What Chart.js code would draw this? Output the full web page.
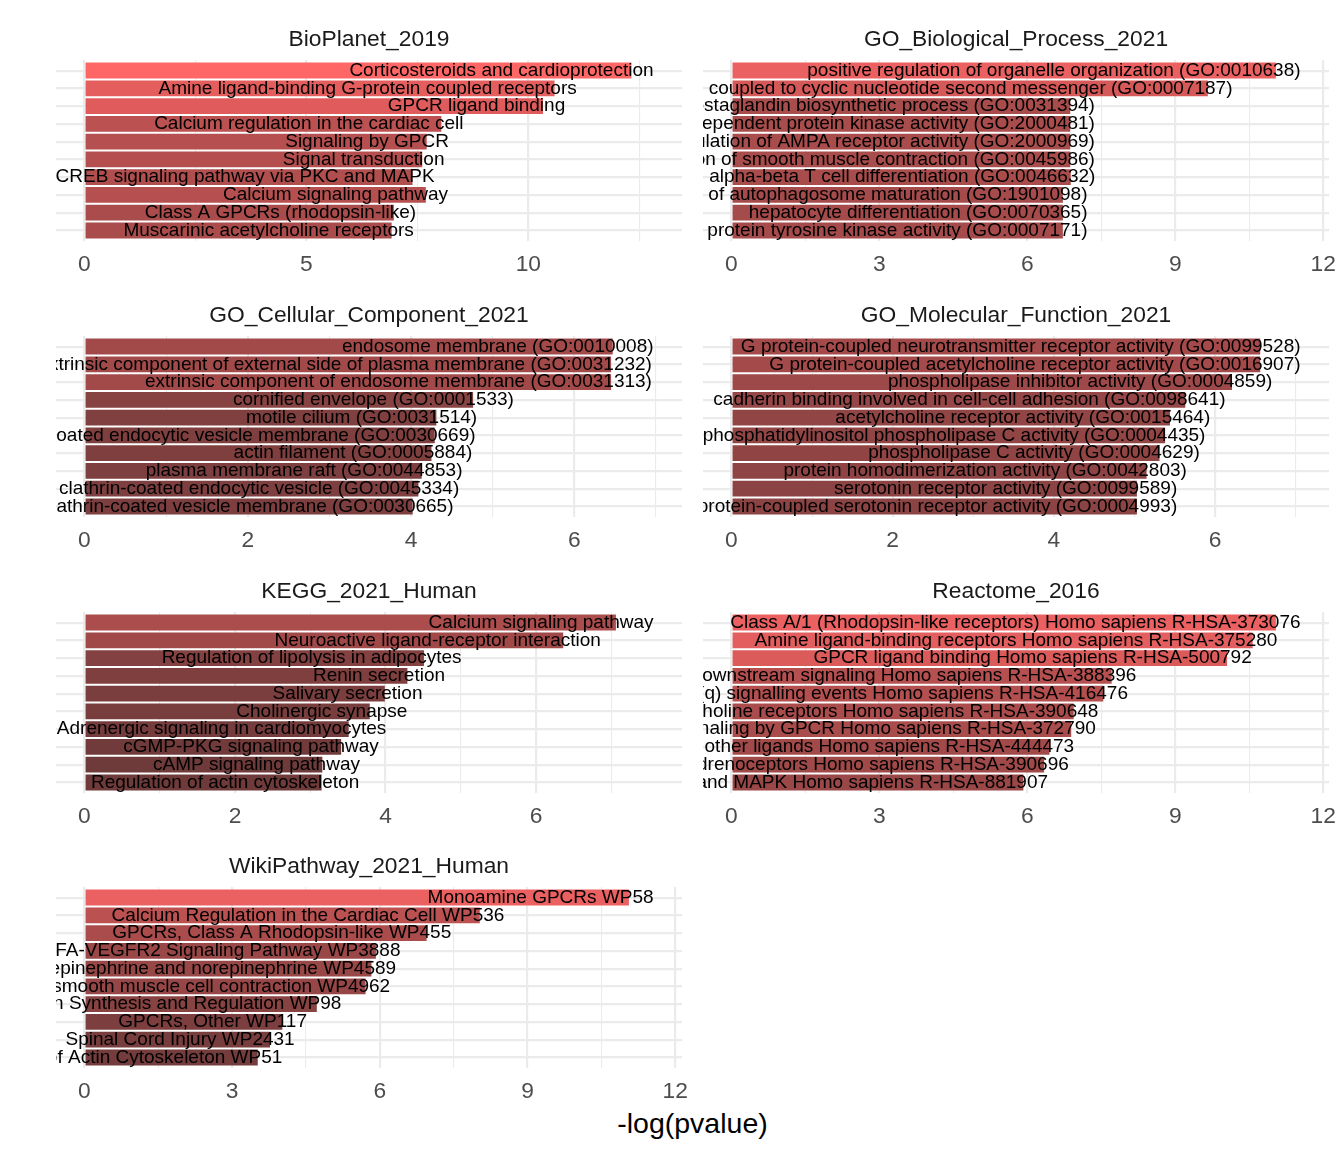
<!DOCTYPE html>
<html>
<head>
<meta charset="utf-8">
<script src="https://cdn.jsdelivr.net/npm/chart.js@4.4.1/dist/chart.umd.min.js"></script>
<style>
  body { margin: 0; background: #fff; }
  #page { position: relative; width: 1344px; height: 1152px; overflow: hidden; background: #fff; }
  #page canvas { position: absolute; }
  #xTitle {
    position: absolute; left: 0; width: 1385px; top: 1106px;
    text-align: center; font: 28.5px/34px "Liberation Sans", Arial, sans-serif; color: #000;
  }
</style>
</head>
<body>
<div id="page">
  <div id="xTitle">-log(pvalue)</div>
</div>
<script>
// Facet titles
const panelTitles = ['BioPlanet_2019', 'GO_Biological_Process_2021', 'GO_Cellular_Component_2021',
  'GO_Molecular_Function_2021', 'KEGG_2021_Human', 'Reactome_2016', 'WikiPathway_2021_Human'];

const bioplanetTerms = ['Corticosteroids and cardioprotection', 'Amine ligand-binding G-protein coupled receptors',
  'GPCR ligand binding', 'Calcium regulation in the cardiac cell', 'Signaling by GPCR', 'Signal transduction',
  'CREB signaling pathway via PKC and MAPK', 'Calcium signaling pathway', 'Class A GPCRs (rhodopsin-like)',
  'Muscarinic acetylcholine receptors'];
const bioplanetValues = [12.32, 10.59, 10.33, 8.04, 7.71, 7.61, 7.39, 7.69, 6.97, 6.92];
const bioplanetTicks = [0, 5, 10];

const goBpTerms = ['positive regulation of organelle organization (GO:0010638)',
  'G protein-coupled receptor signaling pathway, coupled to cyclic nucleotide second messenger (GO:0007187)',
  'positive regulation of prostaglandin biosynthetic process (GO:0031394)',
  'positive regulation of cAMP-dependent protein kinase activity (GO:2000481)',
  'positive regulation of AMPA receptor activity (GO:2000969)',
  'negative regulation of smooth muscle contraction (GO:0045986)',
  'alpha-beta T cell differentiation (GO:0046632)',
  'positive regulation of autophagosome maturation (GO:1901098)',
  'hepatocyte differentiation (GO:0070365)',
  'activation of transmembrane receptor protein tyrosine kinase activity (GO:0007171)'];
const goBpValues = [11.04, 9.66, 6.87, 6.87, 6.87, 6.87, 6.88, 6.72, 6.72, 6.72];
const goBpTicks = [0, 3, 6, 9, 12];

const goCcTerms = ['endosome membrane (GO:0010008)',
  'extrinsic component of external side of plasma membrane (GO:0031232)',
  'extrinsic component of endosome membrane (GO:0031313)',
  'cornified envelope (GO:0001533)', 'motile cilium (GO:0031514)',
  'clathrin-coated endocytic vesicle membrane (GO:0030669)', 'actin filament (GO:0005884)',
  'plasma membrane raft (GO:0044853)', 'clathrin-coated endocytic vesicle (GO:0045334)',
  'clathrin-coated vesicle membrane (GO:0030665)'];
const goCcValues = [6.47, 6.45, 6.45, 4.76, 4.31, 4.29, 4.25, 4.13, 4.09, 4.02];
const goCcTicks = [0, 2, 4, 6];

const goMfTerms = ['G protein-coupled neurotransmitter receptor activity (GO:0099528)',
  'G protein-coupled acetylcholine receptor activity (GO:0016907)',
  'phospholipase inhibitor activity (GO:0004859)',
  'cadherin binding involved in cell-cell adhesion (GO:0098641)',
  'acetylcholine receptor activity (GO:0015464)',
  'phosphatidylinositol phospholipase C activity (GO:0004435)',
  'phospholipase C activity (GO:0004629)', 'protein homodimerization activity (GO:0042803)',
  'serotonin receptor activity (GO:0099589)',
  'G protein-coupled serotonin receptor activity (GO:0004993)'];
const goMfValues = [6.56, 6.56, 6.21, 5.63, 5.44, 5.38, 5.31, 5.15, 5.03, 5.03];
const goMfTicks = [0, 2, 4, 6];

const keggTerms = ['Calcium signaling pathway', 'Neuroactive ligand-receptor interaction',
  'Regulation of lipolysis in adipocytes', 'Renin secretion', 'Salivary secretion', 'Cholinergic synapse',
  'Adrenergic signaling in cardiomyocytes', 'cGMP-PKG signaling pathway', 'cAMP signaling pathway',
  'Regulation of actin cytoskeleton'];
const keggValues = [7.06, 6.36, 4.51, 4.29, 3.99, 3.79, 3.51, 3.41, 3.16, 3.15];
const keggTicks = [0, 2, 4, 6];

const reactomeTerms = ['Class A/1 (Rhodopsin-like receptors) Homo sapiens R-HSA-373076',
  'Amine ligand-binding receptors Homo sapiens R-HSA-375280',
  'GPCR ligand binding Homo sapiens R-HSA-500792',
  'GPCR downstream signaling Homo sapiens R-HSA-388396',
  'G alpha (q) signalling events Homo sapiens R-HSA-416476',
  'Muscarinic acetylcholine receptors Homo sapiens R-HSA-390648',
  'Signaling by GPCR Homo sapiens R-HSA-372790',
  'Formyl peptide receptors bind formyl peptides and many other ligands Homo sapiens R-HSA-444473',
  'Adrenoceptors Homo sapiens R-HSA-390696',
  'Gastrin-CREB signalling pathway via PKC and MAPK Homo sapiens R-HSA-881907'];
const reactomeValues = [11.04, 10.57, 10.05, 7.71, 7.54, 6.94, 6.89, 6.45, 6.34, 5.92];
const reactomeTicks = [0, 3, 6, 9, 12];

const wikiTerms = ['Monoamine GPCRs WP58', 'Calcium Regulation in the Cardiac Cell WP536',
  'GPCRs, Class A Rhodopsin-like WP455', 'VEGFA-VEGFR2 Signaling Pathway WP3888',
  'Major receptors targeted by epinephrine and norepinephrine WP4589',
  'Regulation of smooth muscle cell contraction WP4962',
  'Prostaglandin Synthesis and Regulation WP98', 'GPCRs, Other WP117', 'Spinal Cord Injury WP2431',
  'Regulation of Actin Cytoskeleton WP51'];
const wikiValues = [11.06, 8.03, 6.95, 5.92, 5.83, 5.71, 4.72, 4.02, 3.77, 3.52];
const wikiTicks = [0, 3, 6, 9, 12];

const panels = [
  { terms: bioplanetTerms, values: bioplanetValues, ticks: bioplanetTicks },
  { terms: goBpTerms, values: goBpValues, ticks: goBpTicks },
  { terms: goCcTerms, values: goCcValues, ticks: goCcTicks },
  { terms: goMfTerms, values: goMfValues, ticks: goMfTicks },
  { terms: keggTerms, values: keggValues, ticks: keggTicks },
  { terms: reactomeTerms, values: reactomeValues, ticks: reactomeTicks },
  { terms: wikiTerms, values: wikiValues, ticks: wikiTicks }
];

const FONT = '"Liberation Sans", Arial, sans-serif';
const LABEL_OFFSET = 0.5;   // text sits a little right of the bar end

// fill gradient shared by every facet
const allValues = panels.flatMap(p => p.values);
const vMin = Math.min(...allValues), vMax = Math.max(...allValues);
const lowCol = [110, 58, 58], highCol = [255, 102, 102];
function fillFor(v) {
  const t = (v - vMin) / (vMax - vMin);
  const c = lowCol.map((l, i) => Math.round(l + (highCol[i] - l) * t));
  return `rgb(${c[0]},${c[1]},${c[2]})`;
}

// term text drawn inside the panel, clipped at its edges
const barLabels = {
  id: 'barLabels',
  afterDatasetsDraw(chart, args, opts) {
    const { ctx, chartArea: a, scales: { x, y } } = chart;
    ctx.save();
    ctx.beginPath();
    ctx.rect(a.left, a.top, a.right - a.left, a.bottom - a.top);
    ctx.clip();
    ctx.font = '19px ' + FONT;
    ctx.fillStyle = '#000';
    ctx.textAlign = 'right';
    ctx.textBaseline = 'middle';
    opts.terms.forEach((t, i) => {
      ctx.fillText(t, x.getPixelForValue(opts.values[i] + LABEL_OFFSET), y.getPixelForValue(i + 1));
    });
    ctx.restore();
  }
};

// layout
const colLeft = [56, 703];
const panelW = 626, panelH = 181;
const padX = 20, titleSpace = 42;
const tickPad = 10.3, tickSize = 22.8;
const rowPitch = 275.8, firstTop = 60;

const page = document.getElementById('page');

panels.forEach((p, k) => {
  const col = k % 2, row = Math.floor(k / 2);
  const canvas = document.createElement('canvas');
  const w = panelW + padX * 2;
  const h = Math.round(titleSpace + panelH + tickPad * 2 + tickSize * 1.2);
  canvas.width = w; canvas.height = h;
  canvas.style.left = (colLeft[col] - padX) + 'px';
  canvas.style.top = Math.round(firstTop + row * rowPitch - titleSpace) + 'px';
  page.appendChild(canvas);

  const top = Math.max(...p.values) + LABEL_OFFSET;
  const xMin = -0.05 * top, xMax = 1.05 * top;
  const step = p.ticks[1] - p.ticks[0];
  const minors = p.ticks.map(t => t + step / 2);
  const xTicks = p.ticks.concat(minors).filter(v => v >= xMin && v <= xMax).sort((a, b) => a - b);
  const positions = p.terms.map((t, i) => i + 1);

  new Chart(canvas, {
    type: 'bar',
    data: {
      datasets: [{
        data: p.values.map((v, i) => ({ x: v, y: positions[i] })),
        backgroundColor: p.values.map(fillFor),
        borderWidth: 0,
        barPercentage: 0.9,
        categoryPercentage: 1.0
      }]
    },
    plugins: [barLabels],
    options: {
      indexAxis: 'y',
      responsive: false,
      animation: false,
      devicePixelRatio: 1,
      layout: { padding: { left: padX, right: padX, top: 0, bottom: 0 } },
      plugins: {
        legend: { display: false },
        tooltip: { enabled: false },
        title: {
          display: true,
          text: panelTitles[k],
          color: '#1a1a1a',
          font: { family: FONT, size: 22.8, weight: 'normal' },
          padding: { top: 8.5, bottom: 6.1 }
        },
        barLabels: { terms: p.terms, values: p.values }
      },
      scales: {
        x: {
          type: 'linear',
          min: xMin,
          max: xMax,
          afterBuildTicks: s => { s.ticks = xTicks.map(v => ({ value: v })); },
          border: { display: false },
          grid: {
            color: '#ebebeb',
            drawTicks: false,
            lineWidth: c => (p.ticks.includes(c.tick.value) ? 2.2 : 1.1)
          },
          ticks: {
            autoSkip: false,
            maxRotation: 0,
            padding: tickPad,
            color: '#4d4d4d',
            font: { family: FONT, size: tickSize },
            callback: v => (p.ticks.includes(v) ? String(v) : '')
          }
        },
        y: {
          type: 'linear',
          reverse: true,
          min: 0.4,
          max: 10.6,
          offset: false,
          afterBuildTicks: s => { s.ticks = positions.map(v => ({ value: v })); },
          border: { display: false },
          grid: { color: '#ebebeb', lineWidth: 2.2, drawTicks: false, offset: false },
          ticks: { display: false }
        }
      }
    }
  });
});
</script>
</body>
</html>
